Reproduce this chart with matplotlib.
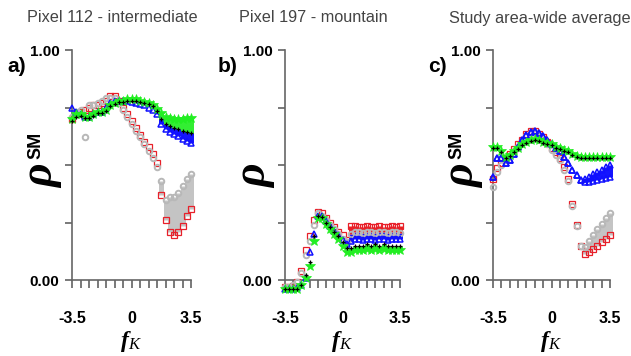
import matplotlib
matplotlib.use("Agg")
import matplotlib.pyplot as plt

# ---------------- data ----------------
fk = [-3.5, -3.25, -3.0, -2.75, -2.5, -2.25, -2.0, -1.75, -1.5, -1.25, -1.0, -0.75, -0.5, -0.25,
      0.0, 0.25, 0.5, 0.75, 1.0, 1.25, 1.5, 1.75, 2.0, 2.25, 2.5, 2.75, 3.0, 3.25, 3.5]

titles = ["Pixel 112 - intermediate", "Pixel 197 - mountain", "Study area-wide average"]
panel_tags = ["a)", "b)", "c)"]
xtick_pos = [-3.5, -3.0, -2.5, -2.0, -1.5, -1.0, -0.5, 0.0, 0.5, 1.0, 1.5, 2.0, 2.5, 3.0, 3.5]
xtick_lab = ["-3.5", "", "", "", "", "", "", "0", "", "", "", "", "", "", "3.5"]
ytick_pos = [0.0, 0.25, 0.5, 0.75, 1.0]
ytick_lab = ["0.00", "", "", "", "1.00"]

# Panel a: Pixel 112
a_red = [0.70, 0.72, 0.73, 0.74, 0.75, 0.76, 0.76, 0.77, 0.78, 0.80, 0.80, 0.78, 0.75, 0.72,
         0.69, 0.66, 0.63, 0.60, 0.58, 0.55, 0.51, 0.37, 0.26, 0.21, 0.195, 0.21, 0.235, 0.28, 0.31]
a_gray = [0.71, 0.73, 0.74, 0.62, 0.76, 0.76, 0.77, 0.78, 0.79, 0.79, 0.79, 0.77, 0.74, 0.71,
          0.68, 0.65, 0.62, 0.59, 0.56, 0.53, 0.49, 0.43, 0.35, 0.36, 0.36, 0.38, 0.41, 0.44, 0.46]
a_blue = [0.75, 0.73, 0.72, 0.71, 0.71, 0.72, 0.73, 0.73, 0.75, 0.77, 0.78, 0.78, 0.78, 0.78,
          0.775, 0.77, 0.765, 0.76, 0.75, 0.74, 0.72, 0.68, 0.655, 0.645, 0.635, 0.625, 0.615, 0.605, 0.595]
a_green = [0.70, 0.72, 0.72, 0.71, 0.71, 0.72, 0.73, 0.73, 0.74, 0.76, 0.77, 0.78, 0.78, 0.785,
           0.785, 0.785, 0.78, 0.775, 0.77, 0.76, 0.745, 0.725, 0.71, 0.705, 0.70, 0.70, 0.70, 0.705, 0.705]
a_black = [0.69, 0.71, 0.715, 0.705, 0.705, 0.715, 0.725, 0.725, 0.735, 0.755, 0.765, 0.775, 0.775, 0.78,
           0.78, 0.78, 0.775, 0.77, 0.765, 0.755, 0.735, 0.70, 0.68, 0.67, 0.66, 0.655, 0.65, 0.645, 0.64]

# Panel b: Pixel 197
b_red = [-0.03, -0.03, -0.025, -0.01, 0.04, 0.13, 0.19, 0.26, 0.295, 0.29, 0.27, 0.25, 0.23, 0.21,
         0.195, 0.175, 0.235, 0.235, 0.23, 0.23, 0.235, 0.23, 0.23, 0.235, 0.23, 0.23, 0.235, 0.23, 0.235]
b_gray = [-0.03, -0.03, -0.02, -0.01, 0.03, 0.11, 0.17, 0.24, 0.29, 0.28, 0.26, 0.24, 0.22, 0.20,
          0.18, 0.165, 0.20, 0.21, 0.21, 0.205, 0.21, 0.21, 0.205, 0.21, 0.21, 0.205, 0.21, 0.21, 0.205]
b_blue = [-0.04, -0.04, -0.04, -0.035, -0.02, 0.01, 0.12, 0.20, 0.28, 0.28, 0.255, 0.235, 0.215, 0.195,
          0.175, 0.155, 0.17, 0.18, 0.18, 0.175, 0.18, 0.18, 0.175, 0.18, 0.18, 0.175, 0.18, 0.18, 0.18]
b_green = [-0.04, -0.04, -0.04, -0.04, -0.02, 0.01, 0.06, 0.17, 0.27, 0.27, 0.245, 0.22, 0.20, 0.18,
           0.15, 0.12, 0.12, 0.13, 0.13, 0.13, 0.135, 0.13, 0.135, 0.13, 0.135, 0.13, 0.13, 0.13, 0.13]
b_black = [-0.04, -0.04, -0.04, -0.04, -0.02, 0.02, 0.08, 0.19, 0.28, 0.275, 0.25, 0.23, 0.21, 0.19,
           0.165, 0.14, 0.14, 0.15, 0.15, 0.15, 0.155, 0.15, 0.155, 0.15, 0.155, 0.15, 0.15, 0.15, 0.15]

# Panel c: study-area average
c_red = [0.44, 0.485, 0.51, 0.53, 0.55, 0.57, 0.59, 0.61, 0.635, 0.65, 0.65, 0.635, 0.62, 0.60,
         0.575, 0.555, 0.53, 0.49, 0.44, 0.33, 0.24, 0.15, 0.115, 0.12, 0.135, 0.15, 0.165, 0.18, 0.195]
c_gray = [0.405, 0.47, 0.50, 0.52, 0.54, 0.56, 0.58, 0.60, 0.625, 0.64, 0.64, 0.625, 0.61, 0.59,
          0.565, 0.545, 0.52, 0.48, 0.43, 0.32, 0.235, 0.15, 0.145, 0.17, 0.195, 0.22, 0.245, 0.27, 0.29]
c_blue = [0.45, 0.53, 0.53, 0.51, 0.52, 0.55, 0.58, 0.61, 0.63, 0.645, 0.65, 0.64, 0.625, 0.61,
          0.59, 0.575, 0.56, 0.535, 0.51, 0.48, 0.455, 0.435, 0.425, 0.425, 0.43, 0.435, 0.44, 0.445, 0.45]
c_blue_hi = [0.45, 0.53, 0.53, 0.51, 0.52, 0.55, 0.58, 0.61, 0.63, 0.645, 0.65, 0.64, 0.625, 0.61,
             0.59, 0.575, 0.56, 0.535, 0.51, 0.48, 0.455, 0.435, 0.44, 0.45, 0.46, 0.47, 0.48, 0.49, 0.50]
c_green = [0.58, 0.58, 0.56, 0.535, 0.545, 0.56, 0.575, 0.59, 0.60, 0.61, 0.615, 0.61, 0.60, 0.595,
           0.59, 0.58, 0.575, 0.565, 0.56, 0.55, 0.54, 0.535, 0.535, 0.535, 0.535, 0.535, 0.535, 0.535, 0.535]
c_black = [0.575, 0.575, 0.555, 0.53, 0.54, 0.555, 0.57, 0.585, 0.595, 0.605, 0.61, 0.605, 0.595, 0.59,
           0.585, 0.575, 0.57, 0.56, 0.555, 0.545, 0.535, 0.53, 0.53, 0.53, 0.53, 0.53, 0.53, 0.53, 0.53]

panels = [
    dict(red=a_red, gray=a_gray, blue=a_blue, blue_hi=a_blue, green=a_green, black=a_black),
    dict(red=b_red, gray=b_gray, blue=b_blue, blue_hi=b_blue, green=b_green, black=b_black),
    dict(red=c_red, gray=c_gray, blue=c_blue, blue_hi=c_blue_hi, green=c_green, black=c_black),
]
# vertical spread bands: (lower series, upper series, colour, starting fK)
bands = [
    [("red", "gray", "#c4c4c4", 1.75), ("blue", "black", "#1515ff", 1.5), ("black", "green", "#33ee33", 1.5)],
    [("green", "black", "#33ee33", 0.5), ("blue", "gray", "#1515ff", 0.5), ("gray", "red", "#e82020", 0.5)],
    [("red", "gray", "#c4c4c4", 2.0), ("blue", "blue_hi", "#1515ff", 2.0)],
]

# ---------------- styling ----------------
W, H = 631, 356
fig = plt.figure(figsize=(W / 100, H / 100), dpi=100)
ax_px = [(72, 191), (285, 400), (493, 610)]
y_top, y_bot = 50, 280
tag_x = [7, 218, 428]
title_x = [(112, "center"), (313, "center"), (449, "left")]

sty = dict(
    red=dict(marker="s", ms=4.3, mfc="none", mec="#e8202a", mew=0.9, ls="none", zorder=3),
    gray=dict(marker="o", ms=4.0, mfc="none", mec="#b8b8b8", mew=1.4, ls="none", zorder=4),
    blue=dict(marker="^", ms=5.0, mfc="none", mec="#1010ff", mew=1.1, ls="none", zorder=5),
    green=dict(marker="*", ms=7.0, mfc="#22ee22", mec="#22ee22", mew=0.5, ls="none", zorder=6),
    black=dict(marker="+", ms=3.4, color="black", mew=0.9, ls="none", zorder=7),
)

for i, (l, r) in enumerate(ax_px):
    ax = fig.add_axes([l / W, 1 - y_bot / H, (r - l) / W, (y_bot - y_top) / H])
    d = panels[i]
    for lo, hi, col, x0 in bands[i]:
        xs = [x for x in fk if x >= x0]
        los = [d[lo][k] for k, x in enumerate(fk) if x >= x0]
        his = [d[hi][k] for k, x in enumerate(fk) if x >= x0]
        ax.vlines(xs, los, his, colors=col, lw=3.6, zorder=2.5, clip_on=False)
    for key in ["red", "gray", "blue", "green", "black"]:
        ax.plot(fk, d[key], clip_on=False, **sty[key])
    if i == 2:
        ax.plot(fk, d["blue_hi"], clip_on=False, **sty["blue"])

    ax.set_xlim(-3.5, 3.5)
    ax.set_ylim(0, 1)
    for s in ["top", "right"]:
        ax.spines[s].set_visible(False)
    for s in ["left", "bottom"]:
        ax.spines[s].set_color("#666666")
        ax.spines[s].set_linewidth(1.2)
    ax.set_xticks(xtick_pos)
    ax.set_xticklabels(xtick_lab)
    ax.set_yticks(ytick_pos)
    ax.set_yticklabels(ytick_lab)
    ax.tick_params(axis="x", direction="out", length=6, width=1.1, color="#555555", pad=16,
                   labelsize=11.5)
    ax.tick_params(axis="y", direction="out", length=5, width=1.1, color="#555555", pad=4,
                   labelsize=11)
    for lab in ax.get_xticklabels() + ax.get_yticklabels():
        lab.set_fontfamily("Liberation Sans")
        lab.set_fontweight("bold")

    # titles and panel tags
    fig.text(title_x[i][0] / W, 1 - 18 / H, titles[i], ha=title_x[i][1], va="center",
             fontsize=11.7, color="#444444", family="Liberation Sans")
    fig.text(tag_x[i] / W, 1 - 67 / H, panel_tags[i], ha="left", va="center",
             fontsize=15, fontweight="bold", family="Liberation Sans")

    # y label (rho) and x label (f_K)
    rho_x = l - 30
    fig.text(rho_x / W, 1 - 176 / H, "ρ", rotation=90, ha="center", va="center",
             fontsize=33, fontweight="bold", fontstyle="italic", family="Liberation Serif")
    if i != 1:
        fig.text((rho_x - 6) / W, 1 - 145 / H, "SM", rotation=90, ha="center", va="center",
                 fontsize=13, fontweight="bold", family="Liberation Sans")
    x0px = l + (r - l) * 0.5
    fig.text((x0px - 3) / W, 1 - 342 / H, "f", ha="right", va="center", fontsize=17,
             fontweight="bold", fontstyle="italic", family="Liberation Serif")
    fig.text((x0px - 3) / W, 1 - 345 / H, "K", ha="left", va="center", fontsize=12,
             fontstyle="italic", family="Liberation Serif")

fig.savefig("out.png", dpi=100)
